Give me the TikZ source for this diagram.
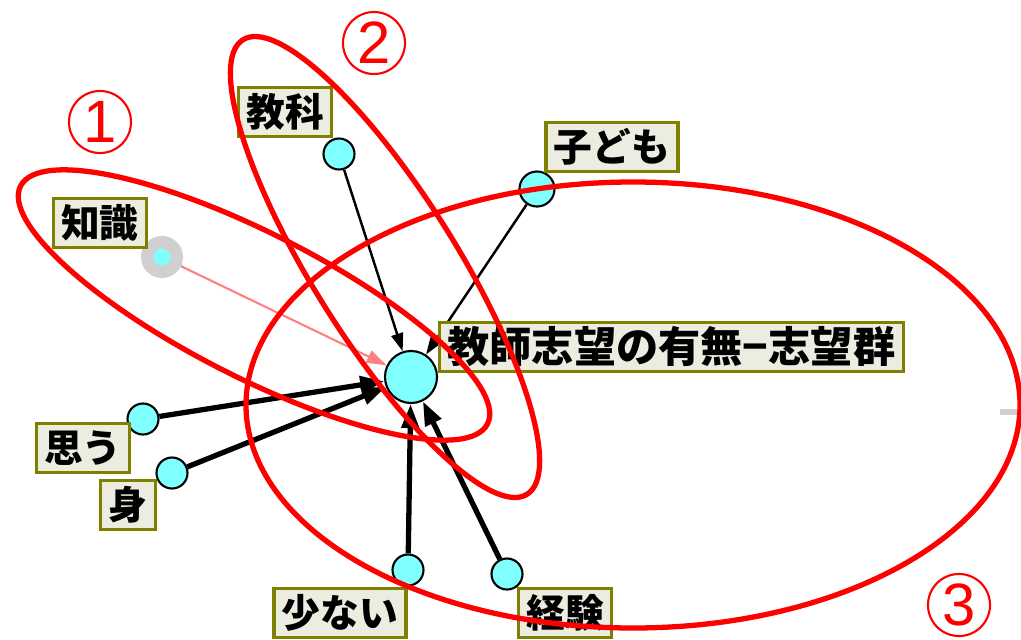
\documentclass[tikz,border=0pt]{standalone}
\usepackage{fontspec}
\usetikzlibrary{arrows.meta}
\newfontfamily\jpfont{Noto Sans CJK JP}
\setsansfont{Liberation Sans}
\definecolor{lblfill}{RGB}{236,236,224}
\definecolor{lbledge}{RGB}{128,128,0}
\definecolor{dotcyan}{RGB}{128,255,255}
\definecolor{pinkline}{RGB}{255,128,128}
\definecolor{ringred}{RGB}{255,0,0}
\definecolor{halogray}{RGB}{208,208,208}

\begin{document}
\begin{tikzpicture}[x=0.01cm, y=-0.01cm,
    word/.style={draw=lbledge, line width=0.9pt, fill=lblfill, inner xsep=0.08cm, inner ysep=0pt,
        minimum height=0.49cm, font=\jpfont\bfseries\fontsize{11}{13}\selectfont},
    dot/.style={circle, draw=black, line width=0.6pt, fill=dotcyan, inner sep=0pt, minimum size=0.31cm},
    weak/.style={line width=0.7pt, -{Triangle[length=0.18cm, width=0.12cm]}},
    strong/.style={line width=1.5pt, -{Triangle[length=0.24cm, width=0.17cm]}},
    ring/.style={draw=ringred, line width=1.5pt},
    num/.style={circle, draw=ringred, line width=0.6pt, text=ringred, inner sep=0pt,
        minimum size=0.62cm, font=\sffamily\fontsize{17}{17}\selectfont}]

    \useasboundingbox (0,0) rectangle (1021,639);

    % Nodes
    \node[dot, minimum size=0.52cm] (hub) at (411,377) {};
    \node[dot] (kyouka) at (339,154) {};
    \node[dot, minimum size=0.35cm] (kodomo) at (537,189) {};
    \node[circle, fill=dotcyan, draw=halogray, line width=0.125cm, inner sep=0pt,
        minimum size=0.295cm] (chishiki) at (162,257) {};
    \node[dot] (omou) at (143,419) {};
    \node[dot] (mi) at (172,473) {};
    \node[dot] (sukunai) at (408,570) {};
    \node[dot] (keiken) at (507,574) {};

    % Edges
    \draw[weak] (kyouka) -- (hub);
    \draw[weak] (kodomo) -- (hub);
    \draw[pinkline, line width=0.6pt, -{Triangle[length=0.2cm, width=0.13cm]}] (chishiki) -- (hub);
    \draw[strong] (omou) -- (hub);
    \draw[strong] (mi) -- (hub);
    \draw[strong] (sukunai) -- (hub);
    \draw[strong] (keiken) -- (hub);

    % Labels
    \node[word, anchor=west, font=\jpfont\bfseries\fontsize{12}{14}\selectfont] (hublbl) at (438,347) {教師志望の有無−志望群};
    \node[word] (kyoukalbl) at (285,112) {教科};
    \node[word] (kodomolbl) at (612,147) {子ども};
    \node[word] (chishikilbl) at (100,223) {知識};
    \node[word] (omoulbl) at (83,448) {思う};
    \node[word] (milbl) at (128,505) {身};
    \node[word] (sukunailbl) at (340,613) {少ない};
    \node[word] (keikenlbl) at (565,613) {経験};

    \draw[halogray, line width=1.5pt] (1000,412) -- (1019,412);

    % Groups
    \draw[ring, rotate around={-27:(254,305)}] (254,305) ellipse [x radius=262, y radius=72];
    \draw[ring, rotate around={-58:(385,267)}] (385,267) ellipse [x radius=268, y radius=72];
    \draw[ring] (633,405) ellipse [x radius=387, y radius=223];

    \node[num] (g1) at (100,122) {1};
    \node[num] (g2) at (374,43) {2};
    \node[num] (g3) at (959,605) {3};

\end{tikzpicture}
\end{document}
